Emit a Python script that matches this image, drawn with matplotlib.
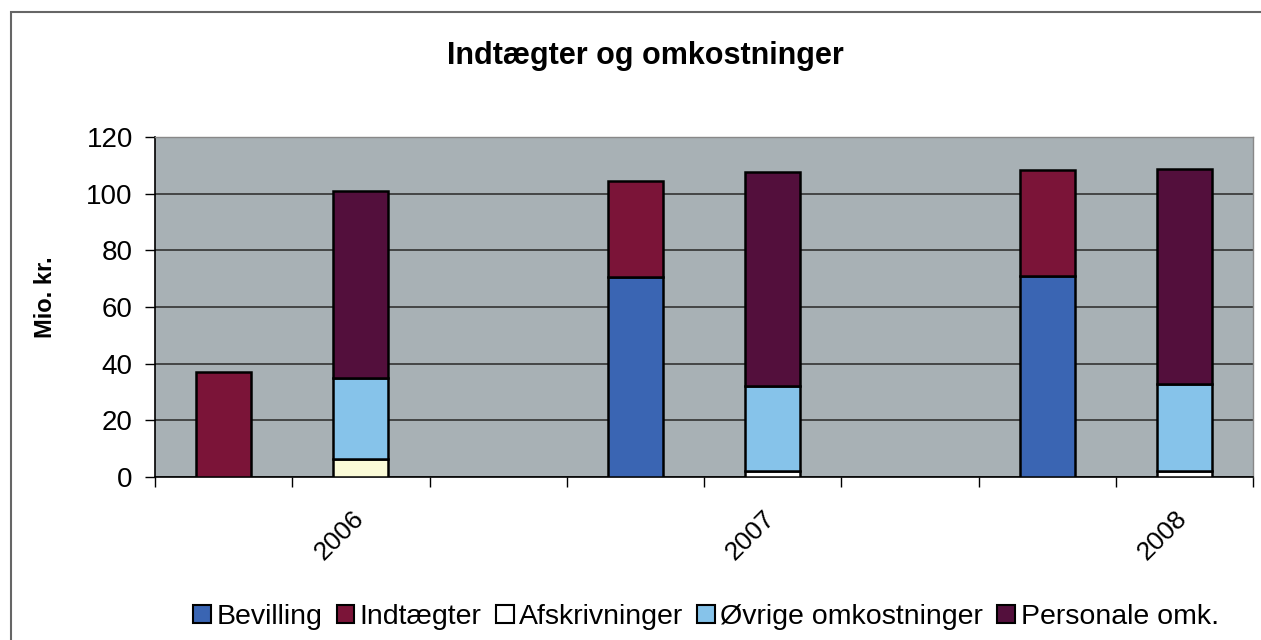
import numpy as np
import matplotlib
matplotlib.use('Agg')
import matplotlib.pyplot as plt
from matplotlib.patches import Rectangle

plt.rcParams['font.family'] = ['Liberation Sans', 'DejaVu Sans']

# data (Mio. kr.)
years = ['2006', '2007', '2008']
bevilling = [0, 70.5, 71]
indtaegter = [37, 34, 37.5]
afskrivninger = [6.5, 2, 2]
oevrige = [28.5, 30, 30.8]
personale = [66, 75.5, 76]

# each year: income bar, expense bar, empty slot
n_slots = 3 * len(years) - 1
x_inc = np.arange(len(years)) * 3 + 0.5
x_exp = x_inc + 1
width = 0.4

fig = plt.figure(figsize=(12.61, 6.40), dpi=100)
ax = fig.add_axes([155 / 1261, 1 - 477 / 640, (1253 - 155) / 1261, (477 - 137) / 640])
ax.set_facecolor('#A8B1B5')

ec = 'black'
lw = 1.8
ax.bar(x_inc, bevilling, width, color='#3A65B3', edgecolor=ec, linewidth=lw, zorder=3)
ax.bar(x_inc, indtaegter, width, bottom=bevilling, color='#7B1438', edgecolor=ec, linewidth=lw, zorder=3)

bottom = np.zeros(len(years))
ax.bar(x_exp, afskrivninger, width, bottom=bottom, color=['#FBFBD8', 'white', 'white'], edgecolor=ec,
       linewidth=lw, zorder=3)
bottom += afskrivninger
ax.bar(x_exp, oevrige, width, bottom=bottom, color='#86C3EA', edgecolor=ec, linewidth=lw, zorder=3)
bottom += oevrige
ax.bar(x_exp, personale, width, bottom=bottom, color='#530F3C', edgecolor=ec, linewidth=lw, zorder=3)

ax.set_ylim(0, 120)
ax.set_xlim(0, n_slots)
ax.set_yticks(np.arange(0, 121, 20))
ax.yaxis.grid(True, color='#333333', linewidth=1.2, zorder=1)
ax.tick_params(axis='y', labelsize=20, length=7, width=1, direction='out', pad=9)

# year labels sit just left of the expense bar centre
ax.set_xticks(x_exp - 0.07)
ax.set_xticklabels(years, rotation=45, ha='right', va='top', rotation_mode='anchor', fontsize=19)
ax.set_xticks(np.arange(0, n_slots + 1), minor=True)
ax.tick_params(axis='x', which='major', length=0, pad=21)
ax.tick_params(axis='x', which='minor', length=7, width=1, direction='out')

for s in ['left', 'bottom']:
    ax.spines[s].set_color('black')
    ax.spines[s].set_linewidth(1.2)
for s in ['top', 'right']:
    ax.spines[s].set_color('#888888')
    ax.spines[s].set_linewidth(1)

ax.set_ylabel('Mio. kr.', fontsize=17, fontweight='bold')
ax.yaxis.set_label_coords((57 - 155) / 1098, 0.53)

fig.text(645 / 1261, 1 - 56 / 640, 'Indtægter og omkostninger', ha='center', va='center',
         fontsize=22, fontweight='bold')

handles = [
    Rectangle((0, 0), 1, 1, facecolor='#3A65B3', edgecolor=ec, linewidth=1.5),
    Rectangle((0, 0), 1, 1, facecolor='#7B1438', edgecolor=ec, linewidth=1.5),
    Rectangle((0, 0), 1, 1, facecolor='white', edgecolor=ec, linewidth=1.5),
    Rectangle((0, 0), 1, 1, facecolor='#86C3EA', edgecolor=ec, linewidth=1.5),
    Rectangle((0, 0), 1, 1, facecolor='#530F3C', edgecolor=ec, linewidth=1.5),
]
labels = ['Bevilling', 'Indtægter', 'Afskrivninger', 'Øvrige omkostninger', 'Personale omk.']
fig.legend(handles, labels, loc='center', bbox_to_anchor=(706 / 1261, 1 - 617 / 640), ncol=5,
           frameon=False, fontsize=20.5, handlelength=0.63, handleheight=0.63, handletextpad=0.18,
           columnspacing=0.5, borderpad=0)

# chart area frame
fig.patches.append(Rectangle((11 / 1261, -0.05), 1.1, 1 - 12 / 640 + 0.05, transform=fig.transFigure,
                             fill=False, edgecolor='#666666', linewidth=1.5))

fig.savefig('out.png', dpi=100, facecolor='white')
